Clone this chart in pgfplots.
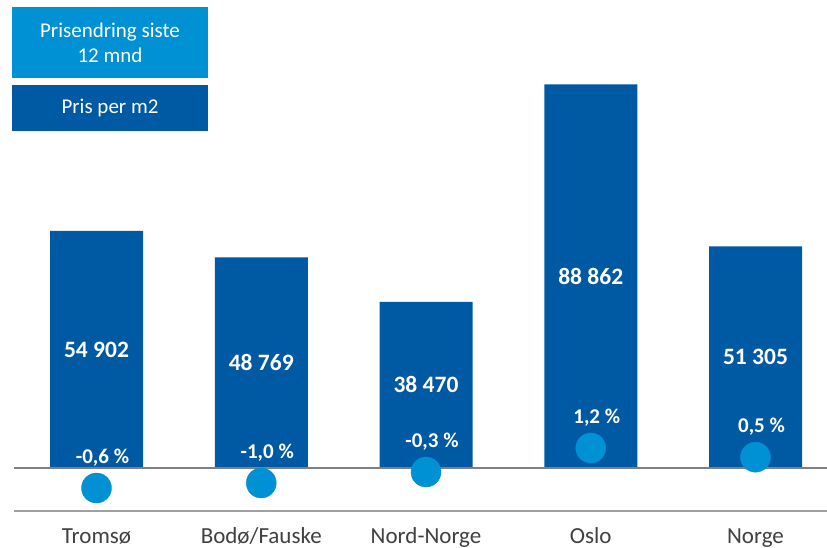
\documentclass[border=0pt]{standalone}
\usepackage{fontspec}
\setmainfont{Carlito}
\usepackage{pgfplots}
\pgfplotsset{compat=1.18}
\usepackage{pgfplotstable}
\definecolor{darkblue}{RGB}{0,89,163}
\definecolor{lightblue}{RGB}{0,145,213}
\definecolor{labelgray}{RGB}{64,64,64}
\definecolor{linegrayA}{RGB}{128,128,128}
\definecolor{linegrayB}{RGB}{160,160,160}

\pgfplotstableread[col sep=semicolon]{
x;v;lab
0;54902;54 902
1;48769;48 769
2;38470;38 470
3;88862;88 862
4;51305;51 305
}\prisdata

\pgfplotstableread[col sep=semicolon]{
x;p;lab
0;-1.2;-0,6 \%
1;-0.9;-1,0 \%
2;-0.24;-0,3 \%
3;1.2;1,2 \%
4;0.65;0,5 \%
}\endringdata

\begin{document}
\begin{tikzpicture}
\useasboundingbox (0,0) rectangle (827bp,548bp);
\begin{axis}[
  at={(14bp,37.3bp)}, anchor=south west, scale only axis,
  width=813bp, height=510.7bp,
  xmin=-0.5008, xmax=4.434, ymin=-9890, ymax=108380,
  axis line style={draw=none}, ytick=\empty, xtick={0,1,2,3,4},
  xticklabels={Tromsø,Bodø/Fauske,Nord-Norge,Oslo,Norge},
  major tick length=0pt,
  xticklabel style={anchor=base, inner sep=0pt, yshift=-32.3bp, font=\fontsize{23bp}{27bp}\selectfont, text=labelgray},
  clip=false,
]
\addplot[ybar, bar width=93bp, bar shift=0pt, fill=darkblue, draw=none] table[x=x,y=v] {\prisdata};
\addplot[draw=none, mark=none, nodes near coords, point meta=explicit symbolic,
  every node near coord/.append style={anchor=center, font=\bfseries\fontsize{23.5bp}{28bp}\selectfont, text=white}]
  table[x=x, y expr=\thisrow{v}/2, meta=lab] {\prisdata};
\draw[line width=1.5bp, linegrayA] (axis cs:-0.5008,0) -- (axis cs:4.434,0);
\draw[line width=2bp, linegrayB] (axis cs:-0.5008,-9890) -- (axis cs:4.434,-9890);
\end{axis}
\begin{axis}[
  at={(14bp,37.3bp)}, anchor=south west, scale only axis,
  width=813bp, height=510.7bp,
  xmin=-0.5008, xmax=4.434, ymin=-2.562, ymax=28.08,
  hide axis, clip=false,
]
\addplot[only marks, mark=*, mark size=15bp, color=lightblue, nodes near coords, point meta=explicit symbolic,
  every node near coord/.append style={anchor=center, yshift=30bp, xshift=6bp, font=\bfseries\fontsize{21bp}{25bp}\selectfont, text=white}]
  table[x=x, y=p, meta=lab] {\endringdata};
\end{axis}
\fill[lightblue] (12bp,470.3bp) rectangle (208bp,541.3bp);
\node[text=white, align=center, font=\fontsize{21bp}{25bp}\selectfont] at (110bp,505.3bp) {Prisendring siste\\12 mnd};
\fill[darkblue] (12bp,417.3bp) rectangle (208bp,463bp);
\node[text=white, font=\fontsize{21bp}{25bp}\selectfont] at (110bp,440bp) {Pris per m2};
\end{tikzpicture}
\end{document}
